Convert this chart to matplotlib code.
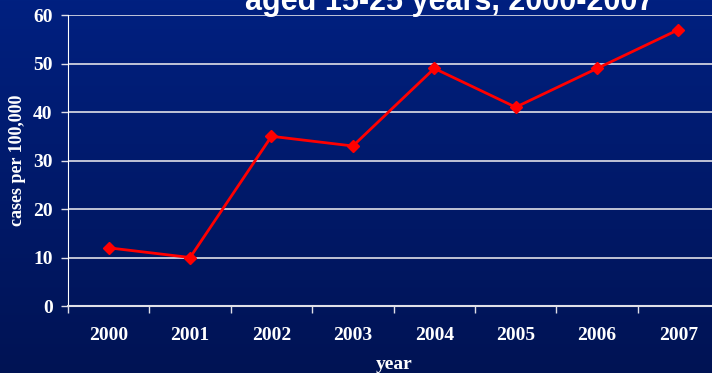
import numpy as np
import matplotlib.pyplot as plt

years = ['2000', '2001', '2002', '2003', '2004', '2005', '2006', '2007']
rates = [12, 10, 35, 33, 49, 41, 49, 57]
y_ticks = [0, 10, 20, 30, 40, 50, 60]

serif = ['Liberation Serif', 'DejaVu Serif']
label_font = dict(family=serif, weight='bold', color='white', size=14)

fig = plt.figure(figsize=(7.12, 3.73), dpi=100)

# dark blue gradient background
bg = fig.add_axes([0, 0, 1, 1], zorder=-10)
grad = np.linspace(0, 1, 256).reshape(-1, 1)
top = np.array([0x00, 0x20, 0x80]) / 255
bottom = np.array([0x00, 0x13, 0x54]) / 255
img = top + (bottom - top) * grad[:, :, None]
bg.imshow(img, aspect='auto', extent=[0, 1, 0, 1])
bg.axis('off')

ax = fig.add_axes([0.0955, 0.1796, 0.9146, 0.780])
ax.patch.set_alpha(0)

x = np.arange(len(years))
ax.plot(x, rates, color='#ff0000', lw=2, marker='D', ms=6.5, zorder=3)

ax.set_xlim(-0.5, len(years) - 0.5)
ax.set_ylim(0, 60)
ax.set_yticks(y_ticks)
ax.yaxis.grid(True, color='#e0e0e8', lw=1.2)
ax.set_axisbelow(True)

# category labels centred, tick marks on the boundaries
ax.set_xticks(x)
ax.set_xticklabels(years, **label_font)
ax.tick_params(axis='x', which='major', length=0, pad=15)
ax.set_xticks(np.arange(len(years) + 1) - 0.5, minor=True)
ax.tick_params(axis='x', which='minor', length=5, width=1, color='#e0e0e8', direction='out')
ax.set_yticklabels([str(v) for v in y_ticks], **label_font)
ax.tick_params(axis='y', length=5, width=1, color='#e0e0e8', pad=6)

for s in ['top', 'right']:
    ax.spines[s].set_visible(False)
ax.spines['left'].set_color('white')
ax.spines['bottom'].set_color('#e0e0e8')
ax.spines['bottom'].set_linewidth(1.5)

ax.set_ylabel('cases per 100,000', labelpad=5, family=serif, weight='bold',
              color='white', size=13)
fig.text(0.553, 0.022, 'year', ha='center', va='center', **label_font)

fig.text(0.632, 0.974, 'aged 15-25 years, 2000-2007', ha='center', va='baseline',
         family=['Liberation Sans', 'DejaVu Sans'], weight='bold', color='white', size=22)

fig.savefig('out.png', dpi=100)
